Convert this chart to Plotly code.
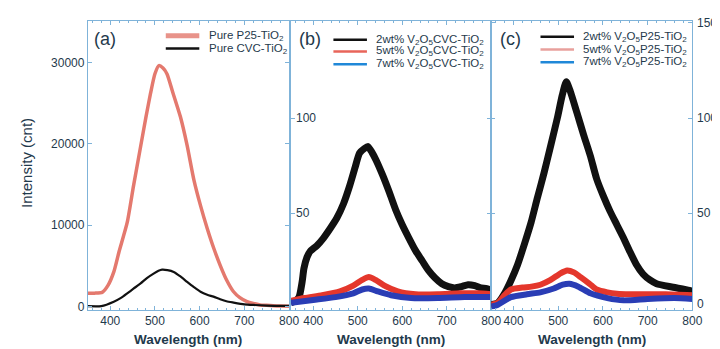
import plotly.graph_objects as go

# ---------------- data ----------------
# Panel (a): pure TiO2
wl_a_p25 = [350, 365, 382, 395, 408, 420, 438, 452, 468, 480, 490, 500, 509, 518, 527, 540, 557, 572, 587, 602, 617, 632, 646, 660, 676, 690, 706, 720, 735, 750, 765, 780, 800]
int_a_p25 = [1650, 1650, 1750, 2600, 4260, 6800, 10340, 14800, 19660, 23300, 26150, 28600, 29600, 29300, 28580, 26300, 23310, 19800, 15600, 12400, 9600, 7100, 5070, 3300, 1820, 1100, 610, 380, 200, 150, 100, 60, 30]
wl_a_cvc = [350, 380, 408, 425, 438, 452, 468, 482, 497, 508, 516, 528, 542, 557, 572, 587, 602, 617, 631, 646, 660, 676, 700, 720, 750, 800]
int_a_cvc = [50, 60, 600, 1100, 1620, 2200, 2840, 3500, 4050, 4400, 4540, 4480, 4260, 3700, 3040, 2400, 1820, 1450, 1220, 900, 650, 490, 280, 200, 120, 80]

# Panel (b): V2O5 / CVC-TiO2
wl_b_2 = [350, 360, 368, 375, 379, 386, 393, 408, 423, 438, 453, 468, 482, 494, 504, 515, 523, 532, 541, 556, 571, 585, 600, 615, 630, 645, 659, 674, 689, 704, 718, 733, 748, 763, 777, 790, 800]
int_b_2 = [3, 4, 6, 14, 21, 27, 30, 33, 37, 42, 47.5, 55, 64.5, 74, 81.6, 84, 85, 82, 78, 70, 61, 52, 44, 37, 30.4, 25, 20, 16, 13, 11.5, 10.8, 11.5, 12.5, 12, 10.8, 10.5, 9.5]
wl_b_5 = [350, 380, 420, 460, 490, 510, 525, 540, 560, 590, 630, 680, 730, 770, 800]
int_b_5 = [4, 5.5, 7, 9, 12, 15, 16.5, 15, 12, 9, 7.5, 7.5, 8, 8, 7.5]
wl_b_7 = [350, 400, 450, 490, 510, 525, 545, 575, 620, 680, 740, 800]
int_b_7 = [3, 4.5, 6, 8, 10, 10.5, 9, 7, 5.5, 5.5, 6, 6]

# Panel (c): V2O5 / P25-TiO2
wl_c_2 = [350, 365, 380, 394, 409, 424, 439, 453, 468, 483, 498, 509, 518, 527, 542, 557, 572, 586, 601, 616, 631, 646, 660, 675, 690, 705, 720, 757, 793, 800]
int_c_2 = [2, 3, 8, 14.6, 23, 33.6, 45, 57.8, 71, 85.4, 100, 112, 119, 114, 102.6, 91, 80, 68, 59, 51, 44, 37, 30, 23, 18, 15, 13, 11.2, 9.5, 9]
wl_c_5 = [350, 365, 380, 394, 420, 440, 460, 483, 505, 520, 535, 550, 570, 586, 610, 631, 660, 700, 740, 800]
int_c_5 = [2, 3, 7, 10, 11, 11.5, 12.5, 15, 18.5, 20, 19, 16.5, 13, 10, 8.5, 7.8, 7.5, 7.5, 7.5, 7]
wl_c_7 = [350, 365, 394, 430, 460, 490, 510, 525, 545, 572, 610, 646, 700, 760, 800]
int_c_7 = [1, 2, 6, 7.5, 8.5, 10.5, 12.5, 13, 11.5, 8, 5.5, 4.3, 5, 5.5, 5]

x_ticks = [400, 500, 600, 700, 800]
a_y_ticks = [0, 10000, 20000, 30000]
a_y_labels = ["0", "10000", "20000", "30000"]
b_y_ticks = [50, 100]
c_y_ticks = [0, 50, 100, 150]

legend_a = ["Pure P25-TiO<sub>2</sub>", "Pure CVC-TiO<sub>2</sub>"]
legend_b = ["2wt% V<sub>2</sub>O<sub>5</sub>CVC-TiO<sub>2</sub>",
            "5wt% V<sub>2</sub>O<sub>5</sub>CVC-TiO<sub>2</sub>",
            "7wt% V<sub>2</sub>O<sub>5</sub>CVC-TiO<sub>2</sub>"]
legend_c = ["2wt% V<sub>2</sub>O<sub>5</sub>P25-TiO<sub>2</sub>",
            "5wt% V<sub>2</sub>O<sub>5</sub>P25-TiO<sub>2</sub>",
            "7wt% V<sub>2</sub>O<sub>5</sub>P25-TiO<sub>2</sub>"]

# ---------------- style ----------------
W, H = 720, 349
TXT = "#1f3a4c"
AX = "#7fb3d9"
FONT = "Liberation Sans"
BLACK = "#111111"
RED_A = "#e4796e"
RED = "#e4372c"
BLUE = "#2a3db5"


def px(x):
    return x / W


def py(y):
    return 1 - y / H


fig = go.Figure()

def add(x, y, color, width, ax):
    fig.add_trace(go.Scatter(x=x, y=y, mode="lines", line=dict(color=color, width=width, shape="spline", smoothing=0.6),
                             xaxis="x" + ax, yaxis="y" + ax, showlegend=False, hoverinfo="skip"))

add(wl_a_p25, int_a_p25, RED_A, 3.5, "")
add(wl_a_cvc, int_a_cvc, BLACK, 2.2, "")
add(wl_b_2, int_b_2, BLACK, 7, "2")
add(wl_b_5, int_b_5, RED, 6, "2")
add(wl_b_7, int_b_7, BLUE, 6, "2")
add(wl_c_2, int_c_2, BLACK, 7, "3")
add(wl_c_5, int_c_5, RED, 6, "3")
add(wl_c_7, int_c_7, BLUE, 6, "3")

y_dom = [py(305), py(13)]
common = dict(showline=True, linecolor=AX, linewidth=1, mirror="ticks", ticks="inside", ticklen=4,
              tickcolor=AX, showgrid=False, zeroline=False,
              tickfont=dict(family=FONT, size=12, color=TXT))
xminor = dict(ticks="inside", ticklen=2, dtick=20, tickcolor=AX, showgrid=False)

fig.update_layout(
    width=W, height=H, margin=dict(l=0, r=0, t=0, b=0),
    paper_bgcolor="white", plot_bgcolor="white", showlegend=False,
    xaxis=dict(domain=[px(81), px(285)], range=[350, 800], anchor="y", tickvals=x_ticks, minor=xminor, **common),
    yaxis=dict(domain=y_dom, range=[-360, 35100], anchor="x", tickvals=a_y_ticks, ticktext=a_y_labels, **common),
    xaxis2=dict(domain=[px(287), px(490)], range=[350, 800], anchor="y2", tickvals=x_ticks, minor=xminor, **common),
    yaxis2=dict(domain=y_dom, range=[-0.5, 151], anchor="x2", tickvals=b_y_ticks, showticklabels=False, **common),
    xaxis3=dict(domain=[px(490), px(694)], range=[350, 800], anchor="y3", tickvals=x_ticks, minor=xminor, **common),
    yaxis3=dict(domain=y_dom, range=[-0.5, 151], anchor="x3", side="right", tickvals=c_y_ticks,
                showticklabels=False, **common),
)

annots = []
shapes = []

# y tick labels of (b) (inside, left) and (c) (outside, right)
for v in b_y_ticks:
    annots.append(dict(text=str(v), x=px(290), y=v, xref="paper", yref="y2", xanchor="left", yanchor="middle",
                       showarrow=False, font=dict(family=FONT, size=12, color=TXT)))
for v in c_y_ticks:
    annots.append(dict(text=str(v), x=px(697), y=v, xref="paper", yref="y3", xanchor="left",
                       yanchor="bottom" if v == 0 else "middle", yshift=-4 if v == 0 else 0,
                       showarrow=False, font=dict(family=FONT, size=12, color=TXT)))

# panel letters
for lab, x in [("(a)", 85), ("(b)", 293), ("(c)", 497)]:
    annots.append(dict(text=lab, x=px(x), y=py(31), xref="paper", yref="paper", xanchor="left", yanchor="middle",
                       showarrow=False, font=dict(family=FONT, size=18, color=TXT)))

# axis titles
for xc in [183, 388.5, 592]:
    annots.append(dict(text="<b>Wavelength (nm)</b>", x=px(xc), y=py(335), xref="paper", yref="paper",
                       xanchor="center", yanchor="middle", showarrow=False,
                       font=dict(family=FONT, size=13.5, color=TXT)))
annots.append(dict(text="Intensity (cnt)", x=px(18), y=py(157), xref="paper", yref="paper", textangle=-90,
                   xanchor="center", yanchor="middle", showarrow=False, font=dict(family=FONT, size=15, color=TXT)))

# manual legends
def legend(items, colors, widths, x0, x1, xt, rows):
    for txt, col, w, r in zip(items, colors, widths, rows):
        shapes.append(dict(type="line", xref="paper", yref="paper", x0=px(x0), x1=px(x1), y0=py(r), y1=py(r),
                           line=dict(color=col, width=w)))
        annots.append(dict(text=txt, x=px(xt), y=py(r), xref="paper", yref="paper", xanchor="left",
                           yanchor="middle", showarrow=False, font=dict(family=FONT, size=11.5, color=TXT)))

legend(legend_a, ["#e8938a", BLACK], [5, 2.5], 160, 194, 202, [28, 41])
legend(legend_b, [BLACK, "#e8655a", "#2088d8"], [2.5, 2.5, 2.5], 330, 364, 371, [32, 44, 57])
legend(legend_c, [BLACK, "#e8a09c", "#2088d8"], [2.5, 2.5, 2.5], 540, 574, 581, [29, 42, 55])

fig.update_layout(annotations=annots, shapes=shapes)

fig.write_html("out.html")
